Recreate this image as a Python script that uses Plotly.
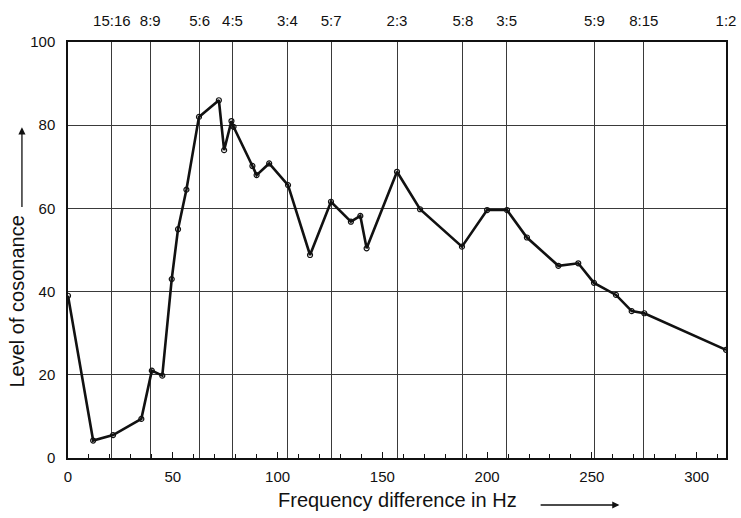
import plotly.graph_objects as go

# Data
freq_diff = [0, 12, 21.5, 35, 40, 45, 49.5, 52.5, 56.5, 62.5, 72, 74.5, 78, 79,
             88, 90, 96, 105, 115.5, 125.5, 135, 139.5, 142.5, 157, 168, 188,
             200, 209.5, 219, 234, 243.5, 251, 261.5, 269, 275, 314]
consonance = [39, 4.2, 5.5, 9.4, 21, 19.8, 43, 55, 64.5, 82, 86, 74, 81, 79.6,
              70.2, 68, 70.8, 65.6, 48.8, 61.6, 56.8, 58.2, 50.4, 68.8, 59.8, 50.8,
              59.6, 59.6, 53, 46.2, 46.8, 42.1, 39.2, 35.3, 34.8, 26]

# Interval ratios (top axis) for a base tone of 314 Hz
base_freq = 314
ratio_a = [15, 8, 5, 4, 3, 5, 2, 5, 3, 5, 8, 1]
ratio_b = [16, 9, 6, 5, 4, 7, 3, 8, 5, 9, 15, 2]
ratio_labels = [f"{a}:{b}" for a, b in zip(ratio_a, ratio_b)]
ratio_pos = [base_freq * (b - a) / a for a, b in zip(ratio_a, ratio_b)]

x_ticks = [0, 50, 100, 150, 200, 250, 300]
y_ticks = [0, 20, 40, 60, 80, 100]

FONT = "Liberation Sans"
INK = "#111111"
GRID = "#3a3a3a"

fig = go.Figure()
fig.add_trace(go.Scatter(
    x=freq_diff, y=consonance, mode="lines+markers",
    line=dict(color=INK, width=2.6),
    marker=dict(symbol="circle-open", size=5, color=INK, line=dict(width=1.2)),
    showlegend=False,
))
# invisible trace on top axis so it renders
fig.add_trace(go.Scatter(x=[0, base_freq], y=[None, None], xaxis="x2",
                         showlegend=False, hoverinfo="skip"))

fig.update_layout(
    width=741, height=518,
    margin=dict(l=68, r=15, t=42, b=60),
    paper_bgcolor="white", plot_bgcolor="white",
    font=dict(family=FONT, size=15, color=INK),
    xaxis=dict(
        range=[0, base_freq], tickvals=x_ticks, showgrid=False, zeroline=False,
        showline=True, linecolor=INK, linewidth=1.5, mirror=True,
        ticks="inside", ticklen=6, tickcolor=INK, automargin=False,
        minor=dict(dtick=10, ticks="inside", ticklen=4, tickcolor=INK, showgrid=False),
        tickfont=dict(size=15, family=FONT), ticklabelstandoff=4,
    ),
    xaxis2=dict(
        overlaying="x", side="top", matches="x", range=[0, base_freq],
        tickvals=ratio_pos, ticktext=ratio_labels, showgrid=True,
        gridcolor=GRID, gridwidth=1.2, ticks="", zeroline=False,
        tickfont=dict(size=15, family=FONT), showline=False,
        automargin=False, ticklabelstandoff=12,
    ),
    yaxis=dict(
        range=[0, 100], tickvals=y_ticks, showgrid=True, gridcolor=GRID,
        gridwidth=1.2, zeroline=False, showline=True, linecolor=INK,
        linewidth=1.5, mirror=True, ticks="", automargin=False,
        tickfont=dict(size=15, family=FONT), ticklabelstandoff=8,
    ),
)

# Axis titles with arrows
fig.add_annotation(text="Frequency difference in Hz", xref="paper", yref="paper",
                   x=0.5, y=-0.1, showarrow=False, yanchor="middle",
                   font=dict(size=20, family=FONT, color=INK))
fig.add_annotation(xref="x domain", yref="y domain", x=0.838, y=-0.113,
                   ax=0.716, ay=-0.113, axref="x domain", ayref="y domain",
                   text="", showarrow=True, arrowhead=2, arrowsize=1.1,
                   arrowwidth=1.3, arrowcolor=INK)
fig.add_annotation(text="Level of cosonance", xref="paper", yref="paper",
                   x=-0.077, y=0.377, showarrow=False, textangle=-90,
                   xanchor="center", yanchor="middle",
                   font=dict(size=20, family=FONT, color=INK))
fig.add_annotation(xref="x domain", yref="y domain", x=-0.07, y=0.795,
                   ax=-0.07, ay=0.6, axref="x domain", ayref="y domain",
                   text="", showarrow=True, arrowhead=2, arrowsize=1.1,
                   arrowwidth=1.3, arrowcolor=INK)

fig.write_html("out.html", config={"displayModeBar": False},
               post_script="document.body.style.margin='0';document.body.style.padding='0';")
